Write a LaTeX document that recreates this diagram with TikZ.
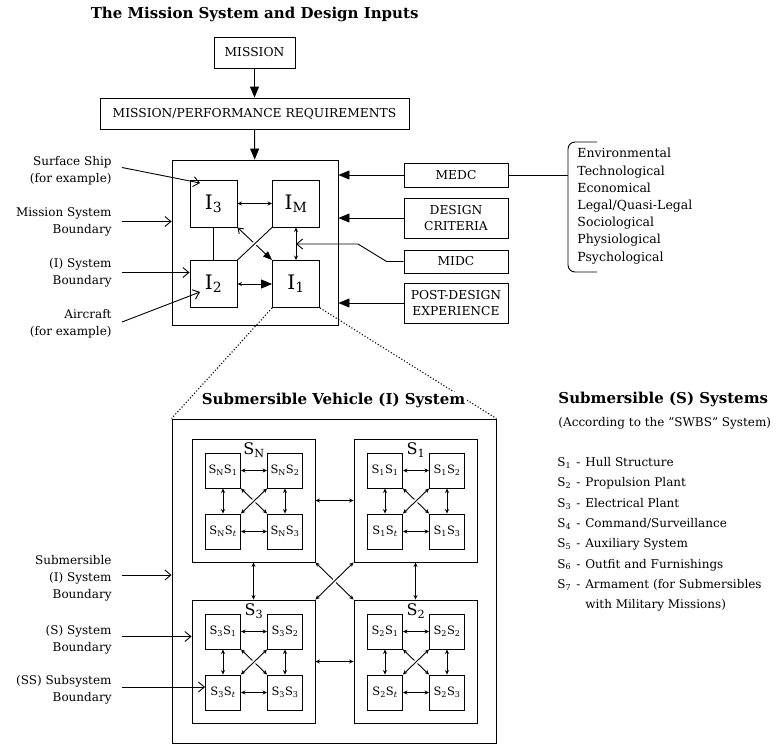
\documentclass[tikz,border=0pt]{standalone}
\usepackage{fontspec}
\setmainfont{DejaVu Serif}
\usetikzlibrary{arrows.meta}

\begin{document}
\begin{tikzpicture}[x=1pt, y=-1pt, line width=0.9pt,
  box/.style={draw, inner sep=0pt, align=center, font=\fontsize{12.3}{16.5}\selectfont},
  ibox/.style={draw, minimum width=47pt, minimum height=47pt, inner sep=0pt, font=\fontsize{20}{22}\selectfont},
  sbox/.style={draw, minimum width=123pt, minimum height=123pt, inner sep=0pt},
  ssbox/.style={draw, minimum width=35pt, minimum height=35pt, inner sep=0pt, font=\fontsize{11.5}{13}\selectfont},
  lbl/.style={align=right, anchor=east, inner sep=0pt, font=\fontsize{12}{17}\selectfont},
  big/.style={-{Triangle[length=11pt,width=9pt]}},
  vee/.style={-{Straight Barb[length=6pt,width=10pt]}},
  twoway/.style={{Stealth[length=4.5pt,width=4pt]}-{Stealth[length=4.5pt,width=4pt]}},
  hop/.style={preaction={draw=white, line width=4pt, shorten <=6pt, shorten >=6pt}}]
  \useasboundingbox (0,0) rectangle (778,744);

  % mission system
  \node[anchor=west, font=\bfseries\fontsize{15}{17}\selectfont] (title) at (87,14) {The Mission System and Design Inputs};
  \node[box, minimum width=81pt, minimum height=31pt] (mission) at (254.5,52.5) {MISSION};
  \node[box, minimum width=309pt, minimum height=31pt] (req) at (254.5,113.5) {MISSION/PERFORMANCE REQUIREMENTS};
  \node[draw, minimum width=166pt, minimum height=165pt] (msys) at (255,242.5) {};
  \draw[big] (mission) -- (req);
  \draw[big] (req) -- (msys);

  \node[ibox] (i3) at (213.5,203.5) {I\textsubscript{3}};
  \node[ibox] (im) at (296,203.5) {I\textsubscript{M}};
  \node[ibox] (i2) at (213.5,284) {I\textsubscript{2}};
  \node[ibox] (i1) at (296,284) {I\textsubscript{1}};
  \draw[twoway] (i3) -- (im);
  \draw (i3) -- (i2);
  \draw[{Stealth[length=4.5pt,width=4pt]}-{Triangle[length=11pt,width=9pt]}] (i2) -- (i1);
  \draw[{Straight Barb[length=5pt,width=7pt]}-{Triangle[length=9pt,width=7pt]}] (i3.south east) -- (i1.north west);
  \draw[hop] (i2.north east) -- (im.south west);
  \draw[twoway] (im) -- (i1);

  % design inputs
  \node[box, minimum width=104pt, minimum height=24pt] (medc) at (456,175) {MEDC};
  \node[box, minimum width=104pt, minimum height=40pt] (crit) at (456,218) {DESIGN\\CRITERIA};
  \node[box, minimum width=104pt, minimum height=23pt] (midc) at (456,261.5) {MIDC};
  \node[box, minimum width=104pt, minimum height=40pt] (post) at (456,303) {POST-DESIGN\\EXPERIENCE};
  \draw[big] (medc) -- (medc -| msys.east);
  \draw[big] (crit) -- (crit -| msys.east);
  \draw[big] (post) -- (post -| msys.east);
  \coordinate (midcin) at (296,244);
  \draw[vee] (midc.west) -- ++(-17,0) -- (358,244) -- (midcin);

  \coordinate (brace) at (568,175);
  \draw (medc.east) -- (brace);
  \draw[rounded corners=7pt] (597,142) -- (568,142) -- (568,272) -- (597,272);
  \node[anchor=north west, align=left, inner sep=0pt, font=\fontsize{12.5}{17.2}\selectfont] (factors) at (577,148)
    {Environmental\\Technological\\Economical\\Legal/Quasi-Legal\\Sociological\\Physiological\\Psychological};

  \node[lbl] (ship) at (112,170.5) {Surface Ship\\(for example)};
  \node[lbl] (msb) at (112,221.5) {Mission System\\Boundary};
  \node[lbl] (isb) at (112,272.5) {(I) System\\Boundary};
  \node[lbl] (air) at (112,324) {Aircraft\\(for example)};
  \coordinate (shiptip) at (200,183);
  \coordinate (airtip) at (200,292);
  \draw[vee] ([shift={(10,-3)}]ship.east) -- (shiptip);
  \draw[vee] ([xshift=10pt]msb.east) -- (msb.east -| msys.west);
  \draw[vee] ([xshift=10pt]isb.east) -- (isb.east -| i2.west);
  \draw[vee] ([shift={(10,-2)}]air.east) -- (airtip);

  % submersible vehicle
  \node[draw, minimum width=324pt, minimum height=324pt] (subm) at (334,581) {};
  \draw[dotted, line width=1.1pt] (i1.south west) -- (subm.north west);
  \draw[dotted, line width=1.1pt] (i1.south east) -- (subm.north east);
  \node[fill=white, inner sep=1pt, font=\bfseries\fontsize{15}{17}\selectfont] (subtitle) at (333.5,400) {Submersible Vehicle (I) System};

  \foreach \n/\x/\y in {N/192/439, 1/354/439, 3/192/600, 2/354/600} {
    \node[sbox] (s\n) at (\x+61.5,\y+61.5) {};
    \node[inner sep=0pt, font=\fontsize{16}{18}\selectfont] (s\n-lbl) at (\x+62,\y+11) {S\textsubscript{\n}};
    \node[ssbox] (s\n-a) at (\x+31,\y+31.5) {S\textsubscript{\n}S\textsubscript{1}};
    \node[ssbox] (s\n-b) at (\x+93,\y+31.5) {S\textsubscript{\n}S\textsubscript{2}};
    \node[ssbox] (s\n-t) at (\x+31,\y+92.5) {S\textsubscript{\n}S\textsubscript{\textit{t}}};
    \node[ssbox] (s\n-c) at (\x+93,\y+92.5) {S\textsubscript{\n}S\textsubscript{3}};
    \draw[twoway] (s\n-a) -- (s\n-b);
    \draw[twoway] (s\n-t) -- (s\n-c);
    \draw[twoway] (s\n-a) -- (s\n-t);
    \draw[twoway] (s\n-b) -- (s\n-c);
    \draw[twoway] (s\n-a.south east) -- (s\n-c.north west);
    \draw[twoway, hop] (s\n-t.north east) -- (s\n-b.south west);
  }
  \draw[twoway] (sN) -- (s1);
  \draw[twoway] (s3) -- (s2);
  \draw[twoway] (sN) -- (s3);
  \draw[twoway] (s1) -- (s2);
  \draw[twoway] (sN.south east) -- (s2.north west);
  \draw[twoway, hop] (s3.north east) -- (s1.south west);

  \node[lbl] (sib) at (112,578) {Submersible\\(I) System\\Boundary};
  \node[lbl] (ssb) at (112,639.5) {(S) System\\Boundary};
  \node[lbl] (ssub) at (112,690) {(SS) Subsystem\\Boundary};
  \draw[vee] ([shift={(10,-3)}]sib.east) -- ([yshift=3pt]sib.east -| subm.west);
  \draw[vee] ([shift={(10,-3)}]ssb.east) -- ([yshift=3pt]ssb.east -| s3.west);
  \draw[vee] ([shift={(10,-3)}]ssub.east) -- ([yshift=3pt]ssub.east -| s3-t.west);

  % SWBS key
  \node[anchor=west, inner sep=0pt, font=\bfseries\fontsize{15}{17}\selectfont] (shead) at (558,399) {Submersible (S) Systems};
  \node[anchor=west, inner sep=0pt, font=\fontsize{12}{14}\selectfont] (swbs) at (558,423) {(According to the \symbol{34}SWBS\symbol{34} System)};
  \node[anchor=north west, inner sep=0pt, font=\fontsize{12}{20.3}\selectfont] (slist) at (557,452)
    {\begin{tabular}{@{}l@{\hspace{5pt}}l@{\hspace{5pt}}l@{}}
      S\textsubscript{1} & - & Hull Structure\\
      S\textsubscript{2} & - & Propulsion Plant\\
      S\textsubscript{3} & - & Electrical Plant\\
      S\textsubscript{4} & - & Command/Surveillance\\
      S\textsubscript{5} & - & Auxiliary System\\
      S\textsubscript{6} & - & Outfit and Furnishings\\
      S\textsubscript{7} & - & Armament (for Submersibles\\
       & & with Military Missions)
    \end{tabular}};
\end{tikzpicture}
\end{document}
